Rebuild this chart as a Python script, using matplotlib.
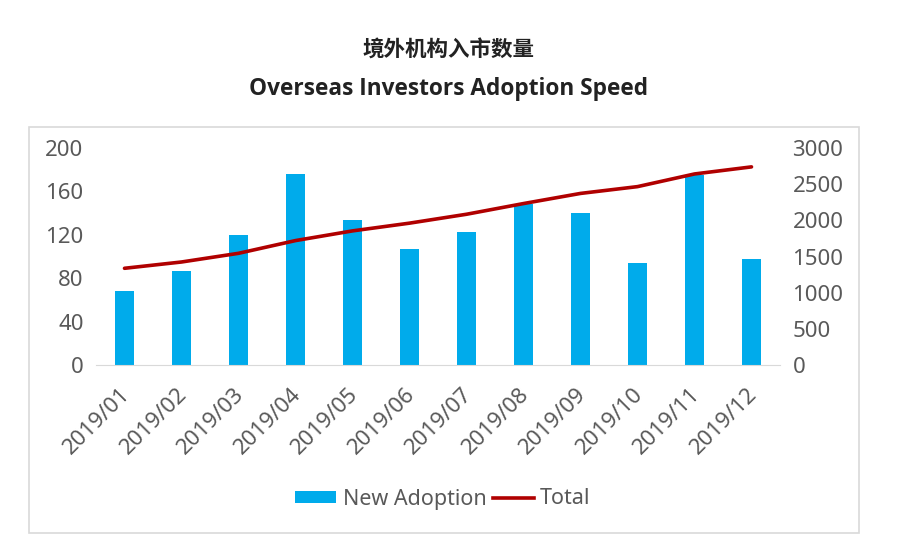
import matplotlib.pyplot as plt
from matplotlib.patches import Rectangle, Patch
from matplotlib.lines import Line2D
from matplotlib.transforms import ScaledTranslation

months = ["2019/01", "2019/02", "2019/03", "2019/04", "2019/05", "2019/06",
          "2019/07", "2019/08", "2019/09", "2019/10", "2019/11", "2019/12"]
new_adoption = [68, 87, 120, 176, 134, 107, 123, 148, 140, 94, 175, 98]
total = [1337, 1424, 1544, 1720, 1854, 1961, 2084, 2232, 2372, 2466, 2641, 2739]
left_ticks = [0, 40, 80, 120, 160, 200]
right_ticks = [0, 500, 1000, 1500, 2000, 2500, 3000]

plt.rcParams['font.family'] = ['Noto Sans CJK SC', 'DejaVu Sans']
bar_color = "#00abeb"
line_color = "#b00000"
tick_color = "#595959"

fig = plt.figure(figsize=(8.97, 5.5), dpi=100)
fig.patch.set_facecolor("white")

# chart frame
fig.patches.append(Rectangle((29 / 897, 1 - 533 / 550), (859 - 29) / 897, (533 - 127) / 550,
                             transform=fig.transFigure, fill=False,
                             edgecolor="#d9d9d9", linewidth=1.2))

fig.text(0.5, 1 - 50 / 550, "境外机构入市数量", ha="center", va="center",
         fontsize=15.5, fontweight="bold", color="#222222")
fig.text(0.5, 1 - 89 / 550, "Overseas Investors Adoption Speed", ha="center", va="center",
         fontsize=16.3, fontweight="bold", color="#222222", family="Open Sans")

ax = fig.add_axes([96 / 897, 1 - 365 / 550, (780 - 96) / 897, (365 - 148) / 550])
x = list(range(len(months)))
ax.bar(x, new_adoption, width=0.32, color=bar_color, zorder=2)
ax.set_xlim(-0.5, len(months) - 0.5)
ax.set_ylim(0, 200)
ax.set_yticks(left_ticks)
ax.set_xticks(x)
ax.set_xticklabels(months, rotation=45, ha="right", rotation_mode="anchor")

ax2 = ax.twinx()
ax2.plot(x, total, color=line_color, linewidth=2.6, solid_capstyle="round", zorder=3)
ax2.set_ylim(0, 3000)
ax2.set_yticks(right_ticks)

for a in (ax, ax2):
    for s in a.spines.values():
        s.set_visible(False)
    a.tick_params(length=0, colors=tick_color, labelsize=16)
    for lab in a.get_xticklabels() + a.get_yticklabels():
        lab.set_family("Noto Sans")
ax.spines["bottom"].set_visible(True)
ax.spines["bottom"].set_color("#d9d9d9")
ax.tick_params(axis="y", pad=9)
ax.tick_params(axis="x", pad=8)
ax2.tick_params(axis="y", pad=9)

# nudge rotated month labels down-left like the original
shift = ScaledTranslation(-5 / 100, -8 / 100, fig.dpi_scale_trans)
for lab in ax.get_xticklabels():
    lab.set_transform(lab.get_transform() + shift)

handles = [Patch(facecolor=bar_color), Line2D([], [], color=line_color, linewidth=2.6)]
leg = fig.legend(handles, ["New Adoption", "Total"], loc="center",
                 bbox_to_anchor=(443 / 897, 1 - 499 / 550), ncol=2, frameon=False,
                 prop={"family": "Noto Sans", "size": 15.5}, handlelength=1.9,
                 handleheight=0.5, columnspacing=0.3, handletextpad=0.3)
for t in leg.get_texts():
    t.set_color(tick_color)

fig.savefig("out.png", dpi=100, facecolor="white")
